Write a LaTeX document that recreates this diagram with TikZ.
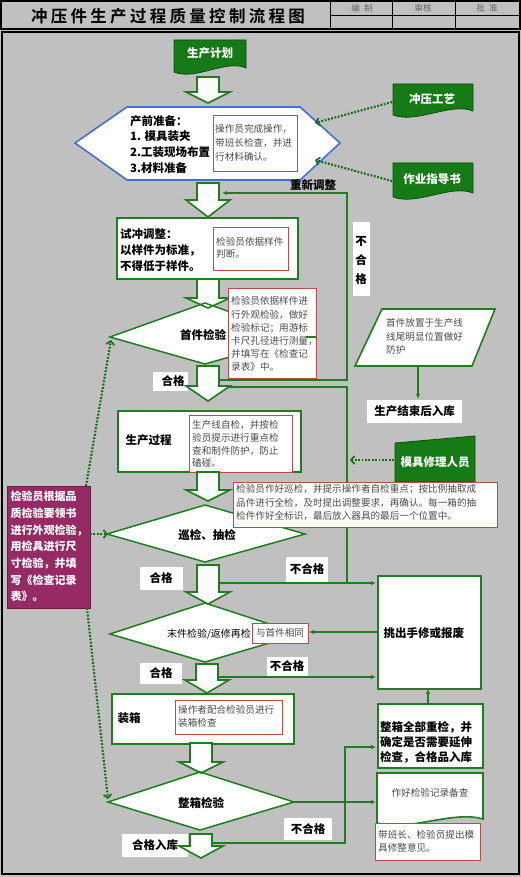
\documentclass[tikz,border=0pt]{standalone}
\usepackage{fontspec}
\setmainfont{Noto Sans CJK SC}
\newfontfamily\titlefont[LetterSpace=20]{Noto Sans CJK SC Bold}
\usetikzlibrary{arrows.meta}
\definecolor{bgc}{RGB}{192,192,192}
\definecolor{gcol}{RGB}{30,125,30}
\definecolor{gdark}{RGB}{10,80,10}
\definecolor{docg}{RGB}{22,122,22}
\definecolor{dotg}{RGB}{20,110,20}
\definecolor{hexb}{RGB}{70,110,215}
\definecolor{redc}{RGB}{185,75,75}
\definecolor{ntext}{RGB}{75,75,75}
\definecolor{mag}{RGB}{150,42,100}
\definecolor{hdr}{RGB}{100,100,100}
\newcommand\blkarrow[4]{%
  \draw[barrow] (#1-11,#2) -- (#1+11,#2) -- (#1+11,#3) -- (#1+22,#3) -- (#1,#4) -- (#1-22,#3) -- (#1-11,#3) -- cycle;}
\newcommand\docshape[5]{%
  \draw[#5] (#1,#2) -- (#3,#2) -- (#3,#4-4) .. controls ({#1+0.72*(#3-#1)},{#4-13}) and ({#1+0.3*(#3-#1)},{#4+9}) .. (#1,#4) -- cycle;}
\begin{document}
\begin{tikzpicture}[x=1pt,y=-1pt,
  barrow/.style={draw=gcol,fill=white,line width=1.6pt,line join=miter},
  gl/.style={draw=gcol,line width=1.5pt},
  ga/.style={gl,-{Latex[length=5pt,width=4.5pt]}},
  dl/.style={draw=dotg,line width=2.2pt,dash pattern=on 1.8pt off 1.6pt,-{Straight Barb[length=3.5pt,width=8pt,line width=1.6pt]}},
  wbox/.style={draw=gcol,fill=white,line width=1.6pt,inner sep=0pt},
  rbox/.style={draw=redc,fill=white,line width=0.8pt,inner sep=0pt},
  note/.style={anchor=north west,inner sep=0pt,align=left,text=ntext,font=\fontsize{9.6}{13.2}\selectfont},
  big/.style={anchor=north west,inner sep=0pt,align=left,font=\fontsize{11.5}{16}\selectfont\bfseries},
  lab/.style={fill=white,inner sep=0pt,font=\fontsize{11.5}{13}\selectfont\bfseries},
  dtext/.style={text=white,font=\fontsize{11.5}{13}\selectfont\bfseries},
]
\useasboundingbox (0,0) rectangle (521,877);
\fill[bgc] (0,0) rectangle (521,877);
% header
\draw[line width=1.5pt] (1,1) rectangle (520,29);
\draw[line width=0.8pt] (330,1) -- (330,29) (392,1) -- (392,29) (455,1) -- (455,29) (330,15) -- (520,15);
\node[text=hdr,font=\fontsize{8.5}{9}\selectfont] (h1) at (362,8) {编\enspace 制};
\node[text=hdr,font=\fontsize{8.5}{9}\selectfont] (h2) at (423,8) {审核};
\node[text=hdr,font=\fontsize{8.5}{9}\selectfont] (h3) at (487,8) {批\enspace 准};
\node[font=\titlefont\fontsize{16.5}{18}\selectfont] (title) at (168,16) {冲压件生产过程质量控制流程图};
% main panel
\draw[line width=2pt] (2,32) rectangle (519,874);

% ---------- connectors (under shapes)
\draw[ga] (219,380) -- (347,380) -- (347,193) -- (222,193);
\draw[ga] (347,583) -- (347,387) -- (221,387);
\draw[ga] (219,583) -- (376,583);
\draw[ga] (219,677) -- (376,677);
\draw[ga] (213,843) -- (345,843) -- (345,747) -- (376,747);
\draw[ga] (294,802) -- (376,802);
\draw[ga] (428,703) -- (428,689);
\draw[ga] (377,632) -- (309,632);
\draw[ga] (418,366) -- (418,399);

% ---------- documents
\docshape{174}{40}{246}{72}{draw=gdark,fill=docg,line width=0.8pt}
\node[dtext] (plan) at (210,53) {生产计划};
\docshape{393}{84}{473}{115}{draw=gdark,fill=docg,line width=0.8pt}
\node[dtext] (proc) at (432,99) {冲压工艺};
\docshape{393}{163}{473}{197}{draw=gdark,fill=docg,line width=0.8pt}
\node[dtext] (guide) at (432,179) {作业指导书};
\docshape{377}{773}{483}{823}{draw=gcol,fill=white,line width=1.6pt}
\node[text=ntext,font=\fontsize{9.6}{12}\selectfont] (rec) at (430,793) {作好检验记录备查};

% ---------- hexagon
\draw[draw=hexb,fill=white,line width=1.6pt] (75,143) -- (127,107) -- (300,107) -- (340,143) -- (300,180) -- (127,180) -- cycle;
\node[big,font=\fontsize{11.5}{15.7}\selectfont\bfseries] (prep) at (130,115) {产前准备：\\1. 模具装夹\\2.工装现场布置\\3.材料准备};
\node[rbox,minimum width=84pt,minimum height=56pt,anchor=north west] (r1) at (213,115) {};
\node[note,font=\fontsize{9.6}{14}\selectfont] at (215,124) {操作员完成操作，\\带班长检查，并进\\行材料确认。};

% ---------- boxes
\node[wbox,minimum width=181pt,minimum height=61pt,anchor=north west] (b1) at (116,217) {};
\node[big] at (120,228) {试冲调整：\\以样件为标准，\\不得低于样件。};
\node[rbox,minimum width=75pt,minimum height=43pt,anchor=north west] (r2) at (213,227) {};
\node[note,font=\fontsize{9.6}{12.5}\selectfont] at (216,237) {检验员依据样件\\判断。};

\node[fill=white,minimum width=17pt,minimum height=73pt,inner sep=0pt] (ng1) at (361,259) {};
\node[font=\fontsize{11.5}{19}\selectfont\bfseries,align=center] at (361,261) {不\\合\\格};
\node[font=\fontsize{11.5}{13}\selectfont\bfseries] (tz) at (313,185) {重新调整};

\node[wbox,minimum width=183pt,minimum height=61pt,anchor=north west] (b2) at (117,410) {};
\node[font=\fontsize{11.5}{13}\selectfont\bfseries,anchor=west] at (122,440) {生产过程};
\node[rbox,minimum width=103pt,minimum height=57pt,anchor=north west] (r4) at (189,415) {};
\node[note,font=\fontsize{9.6}{12.7}\selectfont] at (192,420.5) {生产线自检，并按检\\验员提示进行重点检\\查和制件防护，防止\\磕碰。};

\node[wbox,minimum width=103pt,minimum height=113pt,anchor=north west] (b3) at (377,575) {};
\node[font=\fontsize{11.5}{13}\selectfont\bfseries,anchor=west] at (380,633) {挑出手修或报废};

\node[wbox,minimum width=182pt,minimum height=50pt,anchor=north west] (b4) at (111,693) {};
\node[font=\fontsize{11.5}{13}\selectfont\bfseries,anchor=west] at (114,718) {装箱};
\node[rbox,minimum width=107pt,minimum height=34pt,anchor=north west] (r7) at (175,700) {};
\node[note,font=\fontsize{9.6}{13}\selectfont] at (178,705.5) {操作者配合检验员进行\\装箱检查};

\node[wbox,minimum width=105pt,minimum height=64pt,anchor=north west] (b5) at (377,703) {};
\node[big,font=\fontsize{11.5}{15}\selectfont\bfseries] at (380,721.5) {整箱全部重检，并\\确定是否需要延伸\\检查，合格品入库};

\node[rbox,minimum width=105pt,minimum height=37pt,anchor=north west] (r8) at (375,823) {};
\node[note,font=\fontsize{9.6}{13}\selectfont] at (378,830.5) {带班长、检验员提出模\\具修整意见。};

% parallelogram
\draw[draw=gcol,fill=white,line width=1.6pt] (382,309) -- (495,309) -- (472,366) -- (355,366) -- cycle;
\node[note,font=\fontsize{9.6}{13.5}\selectfont] (pn) at (386,318.5) {首件放置于生产线\\线尾明显位置做好\\防护};
\node[fill=white,minimum width=95pt,minimum height=23pt,inner sep=0pt,font=\fontsize{11.5}{13}\selectfont\bfseries] (store) at (414.5,411.5) {生产结束后入库};

% mold repair
\draw[draw=gdark,fill=docg,line width=0.8pt] (395,443) -- (475,436) -- (475,482) -- (395,482) -- cycle;
\node[dtext] (mold) at (435,462) {模具修理人员};

% magenta box
\node[fill=mag,draw=mag!70!black,line width=0.6pt,minimum width=83pt,minimum height=122pt,anchor=north west] (mg) at (7,486) {};
\node[anchor=north west,inner sep=0pt,align=left,text=white,font=\fontsize{11}{16.7}\selectfont\bfseries] at (10.5,491) {检验员根据品\\质检验要领书\\进行外观检验，\\用检具进行尺\\寸检验，并填\\写《检查记录\\表》。};

% dotted arrows
\draw[dl] (392,102) -- (315,123);
\draw[dl] (392,181) -- (315,160);
\draw[dl] (394,460) -- (350,460);
\draw[dl] (90,534) -- (108,534);
\draw[dl] (86,486) -- (111,340);
\draw[dl] (87,608) -- (108,799);

% labels
\node[lab,minimum width=35pt,minimum height=19pt] (ok1) at (170,381) {\hspace*{6pt}合格};
\node[lab,minimum width=43pt,minimum height=23pt] (ok2) at (161,578) {合格};
\node[lab,minimum width=42pt,minimum height=25pt] (ng2) at (307,569) {不合格};
\node[lab,minimum width=42pt,minimum height=21pt] (ok3) at (161,673) {合格};
\node[lab,minimum width=41pt,minimum height=19pt] (ng3) at (287,666) {不合格};
\node[lab,minimum width=48pt,minimum height=22pt] (ng4) at (308,829) {不合格};
\node[lab,minimum width=66pt,minimum height=23pt] (ok4) at (155,845.5) {合格入库};

% diamond fills
\fill[white] (110,337) -- (205,303) -- (300,337) -- (205,364) -- cycle;
\fill[white] (107,534) -- (205,505) -- (305,534) -- (205,562) -- cycle;
\fill[white] (110,634) -- (205,603) -- (300,634) -- (205,662) -- cycle;
\fill[white] (108,802) -- (200,772) -- (294,802) -- (200,830) -- cycle;

% block arrows
\blkarrow{208}{77}{92}{103}
\blkarrow{208}{183}{200}{217}
\blkarrow{208}{279}{298}{308}
\blkarrow{208}{366}{386}{401}
\blkarrow{208}{472}{490}{501}
\blkarrow{208}{565}{592}{604}
\blkarrow{207}{664}{680}{693}
\blkarrow{201}{743}{762}{773}
\blkarrow{201}{834}{846}{858}

% diamond outlines
\draw[gl,line join=miter] (110,337) -- (205,303) -- (300,337) -- (205,364) -- cycle;
\draw[gl,line join=miter] (107,534) -- (205,505) -- (305,534) -- (205,562) -- cycle;
\draw[gl,line join=miter] (110,634) -- (205,603) -- (300,634) -- (205,662) -- cycle;
\draw[gl,line join=miter] (108,802) -- (200,772) -- (294,802) -- (200,830) -- cycle;
\node[font=\fontsize{11.5}{13}\selectfont\bfseries] (d1) at (203,335) {首件检验};
\node[font=\fontsize{11.5}{13}\selectfont\bfseries] (d2) at (207,535) {巡检、抽检};
\node[font=\fontsize{10}{12}\selectfont] (d3) at (209,634) {末件检验/返修再检};
\node[font=\fontsize{11.5}{13}\selectfont\bfseries] (d4) at (201,803) {整箱检验};

% red notes over diamonds
\node[rbox,minimum width=88pt,minimum height=90pt,anchor=north west] (r3) at (228,288) {};
\node[note,font=\fontsize{9.6}{13.2}\selectfont] at (231,296.5) {检验员依据样件进\\行外观检验，做好\\检验标记；用游标\\卡尺孔径进行测量，\\并填写在《检查记\\录表》中。};
\draw[gl] (306,337) -- (316,337);
\node[rbox,minimum width=264pt,minimum height=45pt,anchor=north west] (r5) at (233,482) {};
\node[note,font=\fontsize{9.6}{13.5}\selectfont] at (236,484.5) {检验员作好巡检，并提示操作者自检重点；按比例抽取成\\品件进行全检，及时提出调整要求，再确认。每一箱的抽\\检件作好全标识，最后放入器具的最后一个位置中。};
\node[rbox,minimum width=56pt,minimum height=20pt,text=ntext,font=\fontsize{9.6}{12}\selectfont] (r6) at (280,633) {与首件相同};
\end{tikzpicture}
\end{document}
